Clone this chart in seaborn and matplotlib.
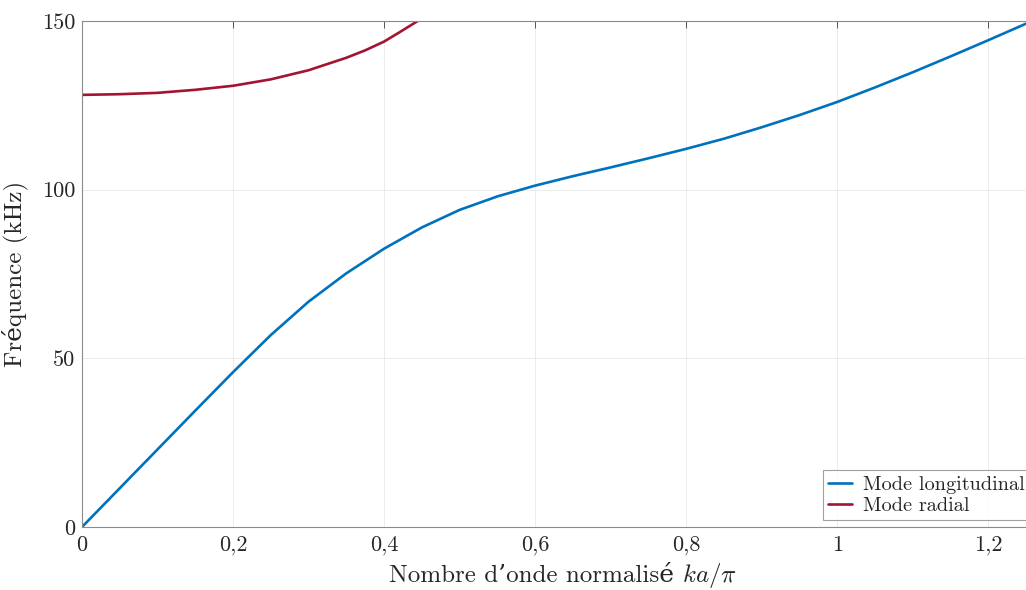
import matplotlib
matplotlib.use("Agg")
import matplotlib.pyplot as plt
import seaborn as sns
import pandas as pd
from matplotlib.ticker import FuncFormatter
from matplotlib.offsetbox import TextArea, HPacker, AnchoredOffsetbox

# Data
k_long = [0, 0.05, 0.1, 0.15, 0.2, 0.25, 0.3, 0.35, 0.4, 0.45, 0.5, 0.55, 0.6, 0.65, 0.7,
          0.75, 0.8, 0.85, 0.9, 0.95, 1.0, 1.05, 1.1, 1.15, 1.2, 1.25]
f_long = [0, 11.5, 23.0, 34.5, 45.9, 56.9, 66.8, 75.2, 82.5, 88.8, 94.0, 98.0, 101.2, 104.0, 106.6,
          109.3, 112.1, 115.1, 118.5, 122.1, 126.0, 130.3, 134.8, 139.5, 144.3, 149.2]
k_rad = [0, 0.05, 0.1, 0.15, 0.2, 0.25, 0.3, 0.35, 0.375, 0.4, 0.42, 0.446, 0.46]
f_rad = [128.1, 128.3, 128.7, 129.6, 130.8, 132.7, 135.4, 139.1, 141.3, 143.9, 146.6, 150.2, 152.3]

series_names = ["Mode longitudinal", "Mode radial"]
colors = ["#0072BD", "#A2142F"]
xticks = [0, 0.2, 0.4, 0.6, 0.8, 1.0, 1.2]
yticks = [0, 50, 100, 150]

df = pd.concat([
    pd.DataFrame({"k": k_long, "f": f_long, "mode": series_names[0]}),
    pd.DataFrame({"k": k_rad, "f": f_rad, "mode": series_names[1]}),
])

sns.set_theme(style="white")
FAM = ["cmr10", "DejaVu Serif"]
plt.rcParams["font.family"] = FAM
plt.rcParams["mathtext.fontset"] = "cm"
plt.rcParams["axes.formatter.use_mathtext"] = True
plt.rcParams["lines.solid_joinstyle"] = "round"

TXT = "#262626"
fig = plt.figure(figsize=(10.26, 5.9), dpi=100)
ax = fig.add_axes([82/1026, 63/590, 944/1026, 506/590])

sns.lineplot(data=df, x="k", y="f", hue="mode", palette=colors, linewidth=1.9,
             ax=ax, sort=False, estimator=None)

ax.set_xlim(0, 1.25)
ax.set_ylim(0, 150)
ax.set_xticks(xticks)
ax.set_yticks(yticks)

def fmt(v, pos):
    return f"{v:g}".replace(".", ",")

ax.xaxis.set_major_formatter(FuncFormatter(fmt))
ax.yaxis.set_major_formatter(FuncFormatter(fmt))
ax.tick_params(axis="both", direction="in", length=5, width=0.7, color="#555555",
               labelsize=16, labelcolor=TXT, pad=6, top=True)
ax.tick_params(axis="y", pad=5)
ax.grid(True, color="#e8e8e8", linewidth=0.6)
for name, sp in ax.spines.items():
    sp.set_color("#8a8a8a")
    sp.set_linewidth(0.8)
ax.spines["right"].set_visible(False)

ax.set_xlabel("")
ax.set_ylabel("Fréquence (kHz)", fontsize=18, color=TXT, labelpad=10)

# x label: roman text + italic math part
t1 = TextArea("Nombre d’onde normalisé", textprops=dict(fontsize=18, family=FAM, color=TXT))
t2 = TextArea(r"$ka/\pi$", textprops=dict(fontsize=18, color=TXT))
box = HPacker(children=[t1, t2], align="baseline", pad=0, sep=6)
anch = AnchoredOffsetbox(loc="upper center", child=box, frameon=False, pad=0, borderpad=0,
                         bbox_to_anchor=(563/1026, 1 - 561/590), bbox_transform=fig.transFigure)
fig.add_artist(anch)

leg = ax.legend(title=None, loc="lower left", bbox_to_anchor=((823-82)/944, 7/506),
                fontsize=14.6, frameon=True, fancybox=False,
                edgecolor="#8a8a8a", handlelength=1.2, borderpad=0.25, labelspacing=0.15,
                handletextpad=0.5, borderaxespad=0)
leg.get_frame().set_linewidth(0.8)
for line in leg.get_lines():
    line.set_linewidth(1.9)

fig.savefig("out.png", dpi=100)
